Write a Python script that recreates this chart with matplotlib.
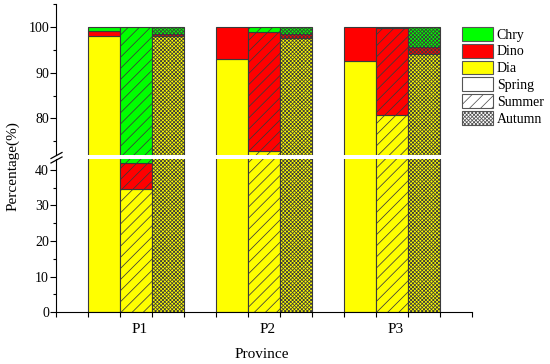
import matplotlib
matplotlib.use("Agg")
import matplotlib.pyplot as plt
from matplotlib.patches import Patch
from matplotlib.lines import Line2D

provinces = ["P1", "P2", "P3"]
seasons = ["Spring", "Summer", "Autumn"]
# rows = province, columns = spring, summer, autumn (percent)
dia = [[98.0, 34.6, 98.0], [92.9, 72.9, 97.6], [92.5, 80.7, 94.1]]
dino = [[1.0, 7.3, 0.5], [7.1, 26.0, 0.9], [7.5, 19.1, 1.5]]
chry = [[1.0, 58.1, 1.5], [0.0, 1.1, 1.5], [0.0, 0.2, 4.4]]

groups = ["Dia", "Dino", "Chry"]
colors = {"Dia": "#ffff00", "Dino": "#ff0000", "Chry": "#00ff00"}
hatches = {"Spring": "", "Summer": "///", "Autumn": "xxxxxxxxx"}
edge = "#3a3a3a"

plt.rcParams["font.family"] = ["Liberation Serif", "DejaVu Serif"]
plt.rcParams["hatch.linewidth"] = 0.55

W, H = 550, 364
fig = plt.figure(figsize=(5.5, 3.64), dpi=100)
left, right = 56 / W, 472.3 / W
ax_top = fig.add_axes([left, 1 - 155 / H, right - left, (155 - 4) / H])
ax_bot = fig.add_axes([left, 1 - 312.3 / H, right - left, (312.3 - 159) / H])

for ax in (ax_top, ax_bot):
    for g in range(len(provinces)):
        for s, season in enumerate(seasons):
            x = g * 4 + s
            bottom = 0
            for name, vals in zip(groups, (dia, dino, chry)):
                v = vals[g][s]
                if v > 0:
                    ax.bar(x, v, width=1, bottom=bottom, align="edge",
                           color=colors[name], edgecolor=edge, linewidth=0.8,
                           hatch=hatches[season])
                bottom += v
    ax.set_xlim(-1, 12)
    ax.spines[["top", "right"]].set_visible(False)
    ax.tick_params(axis="y", which="major", direction="out", length=4,
                   width=0.8, labelsize=10, pad=1)
    ax.tick_params(axis="y", which="minor", direction="out", length=2, width=0.8)

ax_top.set_ylim(72, 105)
ax_top.set_yticks([80, 90, 100])
ax_top.set_yticks([75, 85, 95, 105], minor=True)
ax_top.spines["bottom"].set_visible(False)
ax_top.set_xticks([])

ax_bot.set_ylim(0, 43)
ax_bot.set_yticks([0, 10, 20, 30, 40])
ax_bot.set_yticks([5, 15, 25, 35], minor=True)
ax_bot.set_xticks(range(-1, 13))
ax_bot.set_xticklabels([])
ax_bot.set_xticks([g * 4 + 1.6 for g in range(3)], minor=True)
ax_bot.set_xticklabels(provinces, minor=True)
ax_bot.tick_params(axis="x", which="major", direction="out", length=3.5, width=0.8)
ax_bot.tick_params(axis="x", which="minor", length=0, labelsize=11, pad=8)

# break marks on the y axis
for y0 in (158.5, 163.0):
    fig.add_artist(Line2D([51 / W, 62 / W], [1 - y0 / H, 1 - (y0 - 6) / H],
                          color="black", lw=0.9))

fig.text(12.5 / W, 1 - 166 / H, "Percentage(%)", rotation=90,
         ha="center", va="center", fontsize=11)
fig.text(262 / W, 1 - 354 / H, "Province", ha="center", va="center", fontsize=11)

handles = [Patch(facecolor=colors[n], edgecolor="#555555", lw=0.8, label=n)
           for n in ("Chry", "Dino", "Dia")]
handles += [Patch(facecolor="white", edgecolor="#555555", lw=0.8,
                  hatch=hatches[s], label=s) for s in seasons]
fig.legend(handles=handles, loc="upper left",
           bbox_to_anchor=(462 / W, 1 - 27 / H), frameon=False, fontsize=10,
           handlelength=2.2, handleheight=1.15, labelspacing=0.16,
           handletextpad=0.3, borderpad=0, borderaxespad=0)

fig.savefig("out.png", dpi=100)
